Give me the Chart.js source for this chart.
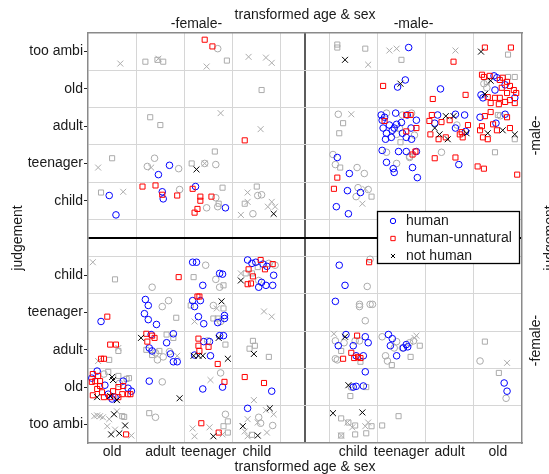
<!DOCTYPE html>
<html>
<head>
<meta charset="utf-8">
<script src="https://cdn.jsdelivr.net/npm/chart.js@4.4.1/dist/chart.umd.min.js"></script>
<style>
    html, body { margin: 0; padding: 0; background: #fff; }
    canvas { display: block; }
</style>
</head>
<body>
<canvas id="chart" width="549" height="474"></canvas>
<script>
// categories
const judgements = ['too ambi', 'old', 'adult', 'teenager', 'child'];
const femaleAges = ['old', 'adult', 'teenager', 'child'];
const maleAges = ['child', 'teenager', 'adult', 'old'];
const sexLabels = ['-female-', '-male-'];
const legendLabels = ['human', 'human-unnatural', 'not human'];

// x: 1..4 female (old..child), 6..9 male (child..old)
// y: 1..5 female judged (too ambi..child), 7..11 male judged (child..too ambi)
const human = [
    [2.19, 7.95], [1.96, 7.7], [0.94, 7.14], [1.08, 6.62], [2.04, 7.24], [2.06, 7.05], [2.73, 7.38], [3.35, 6.81],
    [7.15, 11.11], [6.92, 10.05], [7.08, 10.24], [7.81, 10.0],
    [8.92, 10.35], [8.98, 10.3], [9.15, 10.11], [8.94, 9.97], [8.65, 9.84], [9.35, 9.76], [8.69, 9.76],
    [6.58, 9.3], [6.65, 9.24], [6.6, 9.16], [6.88, 9.35], [7.12, 9.3], [7.31, 9.16], [6.75, 9.03], [6.9, 9.05],
    [6.81, 8.89], [6.69, 8.81], [6.67, 8.65], [6.79, 8.7], [7.02, 8.81], [7.1, 8.7], [7.21, 8.65], [6.85, 8.95],
    [7.0, 9.1], [7.2, 8.95], [6.62, 8.95],
    [7.75, 9.3], [8.12, 9.32], [8.31, 9.3], [7.69, 9.08], [8.33, 8.86], [8.12, 8.95],
    [8.63, 9.24], [9.15, 9.32], [8.96, 9.08],
    [5.67, 8.16], [5.92, 7.73],
    [6.6, 8.35], [6.94, 8.32], [7.1, 8.32], [7.31, 8.32], [6.69, 8.03], [6.83, 7.86], [6.85, 7.76], [7.23, 7.89], [7.33, 7.62],
    [8.19, 7.97],
    [5.88, 7.27], [6.15, 7.22], [5.65, 6.84], [5.9, 6.65],
    [2.67, 5.35], [2.75, 5.35], [3.23, 5.05], [3.29, 5.03], [2.88, 4.73],
    [3.81, 5.41], [3.9, 5.32], [3.98, 5.35], [4.13, 5.3], [4.21, 5.24], [4.1, 4.81], [4.04, 4.68], [4.19, 4.73], [4.33, 4.73], [4.35, 5.0],
    [0.77, 3.76],
    [1.69, 4.35], [1.75, 4.19], [1.67, 3.97], [1.75, 3.81], [1.92, 3.68],
    [2.67, 4.32], [2.83, 4.32], [2.71, 4.16], [2.79, 3.89], [2.9, 3.7], [3.33, 3.92], [3.33, 3.84], [3.19, 3.73],
    [1.81, 3.41], [1.77, 3.05], [1.83, 2.97], [2.27, 3.43], [2.13, 3.19], [2.21, 2.89], [2.27, 2.68], [2.35, 2.68],
    [3.23, 3.38], [3.31, 3.38], [3.04, 2.84], [2.71, 2.86], [2.9, 3.22], [3.02, 3.22],
    [0.69, 2.43], [0.58, 2.24], [1.23, 2.16], [0.85, 2.05], [0.92, 1.81], [1.33, 1.97], [1.4, 1.89], [1.06, 1.73], [1.0, 1.68],
    [1.77, 2.16], [3.29, 2.0], [2.88, 1.95], [4.31, 1.89], [3.81, 1.43],
    [5.71, 5.27], [5.83, 4.73], [5.63, 4.3],
    [5.85, 3.41], [5.69, 3.11], [6.25, 3.35], [6.31, 3.19], [6.0, 3.11], [6.06, 2.84], [6.21, 2.84],
    [6.73, 3.41], [6.81, 3.3], [6.77, 3.11], [6.9, 2.84], [7.1, 3.14], [7.13, 3.08], [7.04, 3.05],
    [6.25, 2.41], [6.0, 2.0], [6.06, 2.02], [6.21, 2.03],
    [9.13, 2.11], [9.19, 1.89],
];
const humanUnnatural = [
    [2.92, 11.32], [3.08, 11.14], [3.75, 8.62], [1.63, 7.38], [1.9, 7.41], [2.04, 7.16], [2.35, 7.14], [2.67, 7.32],
    [2.83, 7.11], [2.83, 7.0], [3.06, 7.11], [2.77, 6.78], [2.71, 6.68],
    [8.08, 10.73], [8.73, 11.11], [9.27, 11.11],
    [6.62, 10.08], [7.65, 9.73], [8.33, 9.84],
    [8.67, 10.38], [8.71, 10.32], [8.83, 10.35], [9.04, 10.24], [9.1, 10.3], [9.19, 10.19], [9.25, 10.08], [9.33, 9.97],
    [9.08, 10.03], [9.19, 9.89], [8.79, 9.78], [8.94, 9.76], [9.04, 9.76], [9.15, 9.65], [9.25, 9.7], [9.38, 9.89],
    [8.85, 9.62], [9.02, 9.59], [9.35, 9.62],
    [6.65, 9.14], [7.1, 9.3], [7.19, 9.3], [7.1, 8.86], [7.31, 8.95],
    [7.58, 9.14], [7.63, 9.3], [8.0, 9.16], [7.83, 9.11], [7.6, 8.78], [7.77, 8.65], [7.92, 8.7], [8.21, 8.78],
    [8.25, 8.84], [8.27, 8.7], [8.38, 9.03],
    [8.73, 9.27], [8.85, 9.38], [8.9, 9.05], [8.67, 9.0], [8.63, 8.89], [8.98, 8.89], [9.25, 8.95], [8.79, 8.65],
    [9.19, 9.24], [8.69, 8.7],
    [5.67, 7.62], [7.23, 8.24], [7.29, 8.32], [7.69, 8.14], [8.12, 8.16], [8.58, 7.92], [8.71, 7.86], [9.4, 7.7], [5.6, 7.32],
    [2.38, 4.95],
    [4.08, 5.41], [3.83, 5.16], [4.17, 5.16], [4.33, 5.3], [3.92, 4.97], [3.81, 4.76], [3.88, 4.78],
    [0.9, 3.89], [2.77, 4.43], [2.81, 4.43],
    [0.96, 3.14], [1.08, 3.14], [0.77, 2.76], [0.83, 2.76],
    [1.71, 3.43], [1.73, 3.22], [1.83, 3.38], [1.88, 3.32],
    [2.79, 3.3], [3.0, 3.08], [2.79, 3.11], [2.81, 2.97], [3.19, 2.62],
    [0.6, 2.35], [0.71, 2.3], [0.65, 2.16], [0.58, 2.14], [0.75, 2.16], [0.75, 2.03], [0.69, 1.95], [0.79, 1.86],
    [0.6, 1.78], [0.83, 1.73], [0.96, 1.73], [1.02, 1.89], [1.13, 2.0], [1.23, 2.03], [1.33, 1.81], [1.21, 1.81],
    [1.13, 1.73], [1.38, 1.81],
    [3.33, 2.14], [3.75, 2.27], [4.15, 2.11],
    [1.29, 0.73], [2.85, 1.03], [3.21, 0.78],
    [6.33, 5.35],
    [6.08, 3.38], [5.96, 2.92], [5.79, 2.76], [6.02, 2.78], [6.1, 2.81], [6.15, 2.78],
];
const notHuman = [
    [2.75, 7.84], [4.35, 6.65],
    [5.83, 10.78], [8.65, 11.0], [6.98, 10.14], [8.85, 10.22], [8.73, 9.86],
    [7.92, 9.27], [8.08, 9.27], [7.69, 8.95], [7.79, 8.78], [7.96, 8.65], [8.35, 8.81],
    [8.79, 8.81], [9.1, 8.89], [9.35, 8.78],
    [3.67, 4.86], [3.27, 4.3], [1.6, 3.32],
    [3.21, 3.32], [2.69, 2.84], [2.79, 2.84], [2.88, 2.84], [3.4, 2.76], [3.94, 2.89],
    [1.0, 2.27], [1.02, 2.19], [0.69, 1.73], [0.96, 1.76], [1.1, 1.65], [2.4, 1.7],
    [1.04, 1.27], [1.27, 0.97], [0.98, 0.73], [1.15, 0.76], [3.1, 0.68],
    [4.27, 1.43], [3.71, 0.95], [4.02, 0.7],
    [5.83, 3.35], [5.9, 2.05], [5.58, 1.3], [6.19, 1.32],
];
const otherHuman = [
    [3.19, 11.08], [1.88, 8.14], [1.73, 7.92], [2.38, 7.86], [2.92, 8.0], [3.15, 7.97], [2.4, 7.3], [3.15, 7.08],
    [2.96, 6.81], [3.19, 6.84], [4.02, 7.14], [4.1, 7.16], [3.92, 6.65],
    [8.71, 10.14], [8.77, 10.03], [5.69, 9.32],
    [6.69, 9.35], [7.02, 9.3], [7.21, 9.35], [6.96, 8.95], [6.9, 8.78], [7.27, 8.76],
    [8.15, 9.03], [9.05, 9.28],
    [5.58, 8.24], [5.63, 7.97], [6.08, 7.89], [6.23, 7.73],
    [6.69, 8.3], [7.17, 8.19], [6.9, 8.0], [7.17, 8.16], [7.83, 8.3],
    [6.1, 7.35], [6.31, 7.3], [6.06, 7.11],
    [1.83, 4.68], [2.94, 5.27], [3.15, 4.89], [3.23, 4.68], [4.38, 5.27], [4.25, 5.32], [4.04, 4.86],
    [2.04, 4.16], [2.17, 4.32], [3.1, 4.19], [3.25, 3.76],
    [1.94, 2.73], [2.06, 2.81], [2.19, 2.95], [1.9, 2.92], [2.98, 3.24],
    [0.83, 2.35], [1.15, 2.1], [2.04, 2.14], [3.25, 2.38],
    [1.9, 1.19], [3.35, 1.27], [4.04, 1.19], [4.08, 1.03], [4.33, 0.97],
    [6.35, 5.43], [6.29, 4.7],
    [6.13, 4.22], [6.13, 4.16], [6.35, 4.22], [6.4, 4.22], [6.25, 3.78],
    [5.63, 3.24], [5.81, 3.19], [6.04, 3.24], [6.13, 3.24], [5.63, 2.76], [5.67, 2.73],
    [6.6, 3.35], [6.9, 3.22], [6.67, 2.84], [6.71, 2.7], [6.85, 3.05], [7.02, 3.05], [7.17, 3.19], [7.25, 3.24],
    [8.63, 2.7], [5.96, 2.0], [9.17, 1.7],
];
const otherUnnatural = [
    [1.69, 10.73], [1.94, 10.78], [2.06, 10.73], [3.38, 10.76], [4.1, 9.97], [1.79, 9.24], [2.0, 9.03], [1.0, 8.14],
    [3.13, 8.32], [2.65, 8.0], [0.77, 7.22], [3.21, 6.92], [3.29, 7.35], [4.0, 7.38], [3.75, 6.92],
    [5.67, 11.19], [5.67, 11.11], [6.25, 11.08], [7.0, 10.78], [9.21, 10.92],
    [8.77, 10.19], [9.21, 10.32], [9.35, 10.32],
    [5.79, 9.08], [5.71, 8.81], [6.98, 8.57], [9.0, 9.3], [9.35, 8.65],
    [5.73, 7.89], [8.94, 8.3], [6.38, 7.11],
    [1.06, 4.89], [2.69, 4.95], [3.31, 4.73], [4.02, 5.22], [3.77, 5.05], [3.9, 5.05],
    [2.33, 3.86], [2.63, 4.19], [3.31, 4.11], [3.1, 3.84], [3.19, 3.84],
    [1.13, 2.97], [0.94, 2.73], [1.71, 3.0], [1.83, 2.86], [2.13, 3.41], [2.27, 3.32], [1.98, 2.97], [3.35, 3.14],
    [3.92, 3.24], [3.96, 3.11], [3.85, 3.03], [4.25, 2.81],
    [0.92, 2.41], [1.13, 2.3], [1.35, 2.24], [1.3, 2.22],
    [1.21, 1.22], [1.25, 1.2], [1.77, 1.3], [3.4, 1.08], [3.31, 0.95], [3.4, 0.78], [3.9, 0.72],
    [5.75, 2.97], [6.15, 2.68], [6.8, 2.59], [7.38, 3.11], [7.19, 2.81], [8.73, 3.22],
    [6.27, 2.0], [5.94, 1.76], [9.02, 2.38],
    [5.75, 1.16], [5.9, 1.05], [6.04, 0.97], [6.38, 0.95], [5.75, 0.7], [6.04, 0.73], [6.27, 0.76],
    [6.6, 0.97], [6.94, 1.22],
];
const otherNotHuman = [
    [1.17, 10.68], [1.96, 10.81], [2.96, 10.6], [3.83, 10.86], [4.19, 10.84], [4.31, 10.7], [3.25, 9.35], [4.08, 8.92],
    [0.71, 7.89], [1.81, 7.89], [2.92, 8.0], [1.23, 7.24], [3.81, 7.22], [3.81, 6.97], [4.31, 6.97], [4.23, 6.84],
    [4.38, 6.84], [3.67, 6.62],
    [6.31, 10.65], [6.75, 11.03], [6.9, 11.08], [8.12, 11.03], [5.96, 9.32], [6.25, 7.32], [6.19, 6.92],
    [0.6, 5.35], [3.67, 5.05], [3.17, 4.11], [2.71, 3.76], [4.15, 4.03], [4.31, 3.89],
    [1.13, 3.05], [0.71, 2.7], [2.35, 2.84], [3.04, 2.19], [3.94, 1.65],
    [0.69, 1.24], [0.75, 1.22], [0.81, 1.19], [0.63, 1.22], [1.1, 1.35], [0.94, 1.14], [0.9, 0.95], [1.06, 0.86], [1.4, 0.7],
    [2.67, 0.89], [2.71, 0.68], [3.02, 0.92], [3.29, 0.73],
    [4.19, 1.38], [4.35, 1.27], [3.81, 1.14], [4.02, 1.05], [3.75, 0.81], [4.21, 0.78], [3.81, 0.68],
    [5.6, 3.43], [7.27, 3.32], [7.31, 3.38], [9.19, 2.65],
    [5.88, 1.05], [5.98, 0.92], [6.31, 1.05], [6.25, 0.95], [5.75, 0.7],
];

const FONT = { family: "'Liberation Sans', Arial, Helvetica, sans-serif", size: 14 };
const TEXT = '#1a1a1a';
const GRAY = '#ababab';
const NONE = 'rgba(0,0,0,0)';
const BORDER = { color: '#8a8a8a', width: 1.5 };

const isHalf = (v) => Math.abs(v - Math.floor(v) - 0.5) < 1e-6;
const stepTicks = (lo, hi) => {
    const t = [];
    for (let v = lo; v <= hi + 1e-9; v += 0.5) t.push({ value: v });
    return t;
};
const xLabel = (v) => {
    if (!Number.isInteger(v)) return '';
    if (v >= 1 && v <= 4) return femaleAges[v - 1];
    if (v >= 6 && v <= 9) return maleAges[v - 6];
    return '';
};
const yLabel = (v) => {
    if (!Number.isInteger(v)) return '';
    if (v >= 1 && v <= 5) return judgements[v - 1];
    if (v >= 7 && v <= 11) return judgements[11 - v];
    return '';
};

function series(label, pts, style, color, radius, inLegend) {
    return {
        label,
        inLegend,
        data: pts.map(([x, y]) => ({ x, y })),
        pointStyle: style,
        pointRadius: radius,
        pointBorderColor: color,
        pointBackgroundColor: NONE,
        pointBorderWidth: 1,
        showLine: false,
    };
}

function marker(ctx, style, x, y, r) {
    ctx.beginPath();
    if (style === 'circle') {
        ctx.arc(x, y, r, 0, Math.PI * 2);
    } else if (style === 'rect') {
        ctx.rect(x - r * 0.8, y - r * 0.8, r * 1.6, r * 1.6);
    } else {
        const a = r * 0.75;
        ctx.moveTo(x - a, y - a); ctx.lineTo(x + a, y + a);
        ctx.moveTo(x + a, y - a); ctx.lineTo(x - a, y + a);
    }
    ctx.stroke();
}

// legend box sitting inside the plot, like the original
const legendBox = {
    id: 'legendBox',
    afterDraw(chart) {
        const { ctx } = chart;
        const items = chart.data.datasets
            .filter((d) => d.inLegend)
            .sort((a, b) => legendLabels.indexOf(a.label) - legendLabels.indexOf(b.label));
        ctx.save();
        ctx.fillStyle = '#fff';
        ctx.fillRect(377, 211, 143, 53);
        ctx.strokeStyle = '#000';
        ctx.lineWidth = 1.3;
        ctx.strokeRect(377.5, 211.5, 142, 52);
        ctx.font = `${FONT.size}px ${FONT.family}`;
        ctx.textBaseline = 'middle';
        ctx.textAlign = 'left';
        items.forEach((d, i) => {
            const y = 221 + i * 17.5;
            ctx.strokeStyle = d.pointBorderColor;
            ctx.lineWidth = 1;
            marker(ctx, d.pointStyle, 393, y, 2.7);
            ctx.fillStyle = TEXT;
            ctx.fillText(d.label, 406, y);
        });
        ctx.restore();
    },
};

// rotated labels on the right side (read bottom to top)
const sideText = {
    id: 'sideText',
    afterDraw(chart) {
        const { ctx, chartArea: a } = chart;
        const mid = chart.scales.y.getPixelForValue(6);
        const put = (text, x, y) => {
            ctx.save();
            ctx.translate(x, y);
            ctx.rotate(-Math.PI / 2);
            ctx.fillText(text, 0, 0);
            ctx.restore();
        };
        ctx.save();
        ctx.font = `${FONT.size}px ${FONT.family}`;
        ctx.fillStyle = TEXT;
        ctx.textAlign = 'center';
        ctx.textBaseline = 'middle';
        put(sexLabels[1], a.right + 14, (a.top + mid) / 2);
        put(sexLabels[0], a.right + 14, (mid + a.bottom) / 2);
        put('judgement', a.right + 28, (a.top + a.bottom) / 2);
        ctx.restore();
    },
};

new Chart(document.getElementById('chart'), {
    type: 'scatter',
    plugins: [sideText, legendBox],
    data: {
        // first dataset is painted last, so the coloured marks sit on the grey ones
        datasets: [
            series(legendLabels[2], notHuman, 'crossRot', '#000', 4.2, true),
            series(legendLabels[1], humanUnnatural, 'rect', '#ff0000', 3.6, true),
            series(legendLabels[0], human, 'circle', '#0000ff', 3.3, true),
            series('other not human', otherNotHuman, 'crossRot', GRAY, 4.2, false),
            series('other human-unnatural', otherUnnatural, 'rect', GRAY, 3.6, false),
            series('other human', otherHuman, 'circle', GRAY, 3.3, false),
        ],
    },
    options: {
        responsive: false,
        animation: false,
        events: [],
        layout: { padding: 0 },
        plugins: { legend: { display: false }, tooltip: { enabled: false } },
        scales: {
            x: {
                type: 'linear',
                position: 'bottom',
                min: 0.5,
                max: 9.5,
                afterBuildTicks: (axis) => { axis.ticks = stepTicks(0.5, 9.5); },
                afterFit: (axis) => { axis.height = 31; },
                ticks: { autoSkip: false, maxRotation: 0, padding: 1, color: TEXT, font: FONT, callback: (v) => xLabel(v) },
                grid: {
                    drawTicks: false,
                    color: (c) => {
                        const v = c.tick.value;
                        if (v === 5) return '#5c5c5c';
                        return isHalf(v) && v > 0.5 && v < 9.5 ? '#d6d6d6' : NONE;
                    },
                    lineWidth: (c) => (c.tick.value === 5 ? 2 : 1),
                },
                border: BORDER,
                title: { display: true, text: 'transformed age & sex', color: TEXT, font: { ...FONT, lineHeight: 1 }, padding: 0 },
            },
            x2: {
                type: 'linear',
                axis: 'x',
                position: 'top',
                min: 0.5,
                max: 9.5,
                afterBuildTicks: (axis) => { axis.ticks = [{ value: 2.75 }, { value: 7.25 }]; },
                afterFit: (axis) => { axis.height = 33; },
                ticks: { autoSkip: false, maxRotation: 0, padding: 0, color: TEXT, font: FONT, callback: (v) => (v < 5 ? sexLabels[0] : sexLabels[1]) },
                grid: { display: false, drawTicks: false },
                border: BORDER,
                title: { display: true, text: 'transformed age & sex', color: TEXT, font: { ...FONT, lineHeight: 1 }, padding: { top: 8.5, bottom: 0 } },
            },
            y: {
                type: 'linear',
                position: 'left',
                min: 0.5,
                max: 11.5,
                afterBuildTicks: (axis) => { axis.ticks = stepTicks(0.5, 11.5); },
                afterFit: (axis) => { axis.width = 88; },
                ticks: { autoSkip: false, padding: 1, color: TEXT, font: FONT, callback: (v) => yLabel(v) },
                grid: {
                    tickLength: 4,
                    color: (c) => {
                        const v = c.tick.value;
                        if (v === 6) return '#000';
                        return isHalf(v) && v > 0.5 && v < 11.5 ? '#d6d6d6' : NONE;
                    },
                    lineWidth: (c) => (c.tick.value === 6 ? 2 : 1),
                    tickColor: (c) => (yLabel(c.tick.value) ? '#222' : NONE),
                },
                border: BORDER,
                title: { display: true, text: 'judgement', color: TEXT, font: { ...FONT, lineHeight: 1 }, padding: { top: 11, bottom: 0 } },
            },
            y2: {
                type: 'linear',
                axis: 'y',
                position: 'right',
                min: 0.5,
                max: 11.5,
                afterFit: (axis) => { axis.width = 27; },
                ticks: { display: false },
                grid: { display: false, drawTicks: false },
                border: BORDER,
            },
        },
    },
});
</script>
</body>
</html>
